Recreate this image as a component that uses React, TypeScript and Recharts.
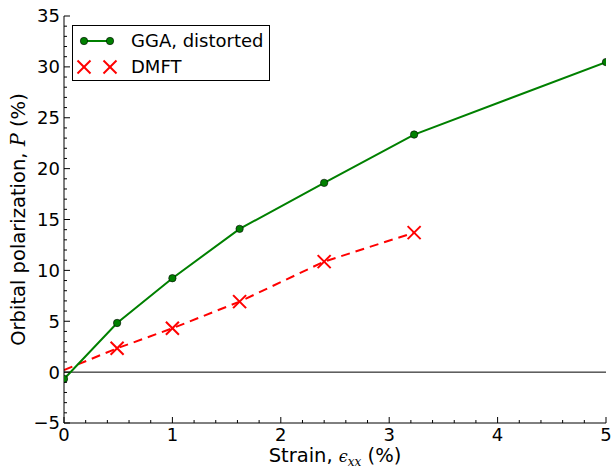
import React from 'react';
import { ComposedChart, Line, XAxis, YAxis, ReferenceLine, Legend } from 'recharts';

// GGA (distorted) curve
const strainGGA = [0, 0.49, 1.0, 1.62, 2.4, 3.23, 5.0];
const polGGA = [-0.67, 4.83, 9.23, 14.08, 18.6, 23.35, 30.47];

// DMFT points (first point only starts the dashed guide line)
const strainDMFT = [0, 0.49, 1.0, 1.62, 2.4, 3.23];
const polDMFT = [0.2, 2.34, 4.31, 6.93, 10.86, 13.71];

const xMajorTicks = [0, 1, 2, 3, 4, 5];
const yMajorTicks = [-5, 0, 5, 10, 15, 20, 25, 30, 35];
const xAllTicks = Array.from({ length: 26 }, (_, i) => Math.round(i * 2) / 10);
const yAllTicks = Array.from({ length: 41 }, (_, i) => i - 5);

const ggaData = strainGGA.map((x, i) => ({ x, y: polGGA[i] }));
const dmftData = strainDMFT.map((x, i) => ({ x, y: polDMFT[i] }));

const GREEN = '#008000';
const RED = '#ff0000';
const FONT = '"DejaVu Sans", sans-serif';

const fmt = (v: number) => (v < 0 ? '\u2212' + Math.abs(v) : String(v));

const renderXTick = (side: 'top' | 'bottom') => (props: any) => {
  const { x, y, payload, index } = props;
  const v = payload.value;
  const major = xMajorTicks.some((m) => Math.abs(m - v) < 1e-6);
  const len = major ? 6 : 3;
  const dir = side === 'top' ? 1 : -1;
  return (
    <g key={`${side}-${index}`}>
      <line x1={x} x2={x} y1={y} y2={y + dir * len} stroke="#000" strokeWidth={1} />
      {side === 'bottom' && major && (
        <text x={x} y={y + 18} textAnchor="middle" fontSize={18} fontFamily={FONT} fill="#000">
          {fmt(v)}
        </text>
      )}
    </g>
  );
};

const renderYTick = (side: 'left' | 'right') => (props: any) => {
  const { x, y, payload, index } = props;
  const v = payload.value;
  const major = yMajorTicks.includes(v);
  const len = major ? 6 : 3;
  const dir = side === 'right' ? -1 : 1;
  return (
    <g key={`${side}-${index}`}>
      <line x1={x} x2={x + dir * len} y1={y} y2={y} stroke="#000" strokeWidth={1} />
      {side === 'left' && major && (
        <text x={x - 4} y={y} dy="0.36em" textAnchor="end" fontSize={18} fontFamily={FONT} fill="#000">
          {fmt(v)}
        </text>
      )}
    </g>
  );
};

const Cross = ({ cx, cy, size = 6.5 }: { cx: number; cy: number; size?: number }) => (
  <g>
    <line x1={cx - size} y1={cy - size} x2={cx + size} y2={cy + size} stroke={RED} strokeWidth={2} />
    <line x1={cx - size} y1={cy + size} x2={cx + size} y2={cy - size} stroke={RED} strokeWidth={2} />
  </g>
);

const dmftDot = (props: any) => {
  const { cx, cy, index } = props;
  if (index === 0) return <g key={`d${index}`} />;
  return (
    <g key={`d${index}`}>
      <Cross cx={cx} cy={cy} />
    </g>
  );
};

const LegendBox = () => (
  <svg width={198} height={56} style={{ display: 'block' }}>
    <rect x={0.5} y={0.5} width={197} height={55} fill="#fff" stroke="#000" strokeWidth={1} />
    <line x1={12} x2={38} y1={16} y2={16} stroke={GREEN} strokeWidth={2} />
    <circle cx={12} cy={16} r={3.7} fill={GREEN} stroke="#000" strokeWidth={0.6} />
    <circle cx={38} cy={16} r={3.7} fill={GREEN} stroke="#000" strokeWidth={0.6} />
    <text x={59} y={22} fontSize={18} fontFamily={FONT} fill="#000">GGA, distorted</text>
    <Cross cx={12} cy={42} />
    <Cross cx={38} cy={42} />
    <text x={59} y={48} fontSize={18} fontFamily={FONT} fill="#000">DMFT</text>
  </svg>
);

const XLabel = (props: any) => {
  const { x, y, width } = props.viewBox;
  return (
    <text x={x + width / 2} y={y + 39} textAnchor="middle" fontSize={19.5} fontFamily={FONT} fill="#000">
      Strain,{' '}
      <tspan fontFamily='"DejaVu Serif", serif' fontStyle="italic" fontSize={16}>ϵ</tspan>
      <tspan fontFamily='"DejaVu Serif", serif' fontStyle="italic" fontSize={12} dy={4}>xx</tspan>
      <tspan dy={-4}> (%)</tspan>
    </text>
  );
};

const YLabel = (props: any) => {
  const { y, height } = props.viewBox;
  const cx = 25;
  const cy = y + height / 2;
  return (
    <text
      x={cx}
      y={cy}
      transform={`rotate(-90 ${cx} ${cy})`}
      textAnchor="middle"
      fontSize={19.5}
      fontFamily={FONT}
      fill="#000"
    >
      Orbital polarization,{' '}
      <tspan fontFamily='"DejaVu Serif", serif' fontStyle="italic">P</tspan> (%)
    </text>
  );
};

const axisCommon = {
  dataKey: 'x',
  type: 'number' as const,
  interval: 0 as const,
  tickSize: 0,
  tickMargin: 0,
  tickLine: false,
  axisLine: { stroke: '#000', strokeWidth: 1 },
  allowDataOverflow: true,
};

export default function App() {
  return (
    <div style={{ position: 'absolute', left: 0, top: 0, background: '#fff' }}>
      <ComposedChart width={611} height={468} margin={{ top: 16, right: 5, bottom: 0, left: 0 }}>
        <XAxis
          {...axisCommon}
          xAxisId="bottom"
          domain={[0, 5]}
          ticks={xAllTicks}
          height={45}
          tick={renderXTick('bottom')}
          label={<XLabel />}
        />
        <XAxis
          {...axisCommon}
          xAxisId="top"
          orientation="top"
          domain={[0, 5]}
          ticks={xAllTicks}
          height={0}
          tick={renderXTick('top')}
        />
        <YAxis
          {...axisCommon}
          dataKey="y"
          yAxisId="left"
          domain={[-5, 35]}
          ticks={yAllTicks}
          width={64}
          tick={renderYTick('left')}
          label={<YLabel />}
        />
        <YAxis
          {...axisCommon}
          dataKey="y"
          yAxisId="right"
          orientation="right"
          domain={[-5, 35]}
          ticks={yAllTicks}
          width={0}
          tick={renderYTick('right')}
        />
        <ReferenceLine xAxisId="bottom" yAxisId="left" y={0} stroke="#000" strokeWidth={1} />
        <Line
          xAxisId="bottom"
          yAxisId="left"
          data={dmftData}
          dataKey="y"
          name="DMFT"
          stroke={RED}
          strokeWidth={2}
          strokeDasharray="9 6"
          dot={dmftDot}
          activeDot={false}
          isAnimationActive={false}
        />
        <Line
          xAxisId="top"
          yAxisId="right"
          data={ggaData}
          dataKey="y"
          name="GGA, distorted"
          stroke={GREEN}
          strokeWidth={2}
          dot={{ r: 3.7, fill: GREEN, stroke: '#000', strokeWidth: 0.6 }}
          activeDot={false}
          isAnimationActive={false}
        />
        <Legend
          layout="horizontal"
          align="center"
          verticalAlign="middle"
          content={<LegendBox />}
          wrapperStyle={{ left: 72, top: 25, width: 198, height: 56 }}
        />
      </ComposedChart>
    </div>
  );
}
